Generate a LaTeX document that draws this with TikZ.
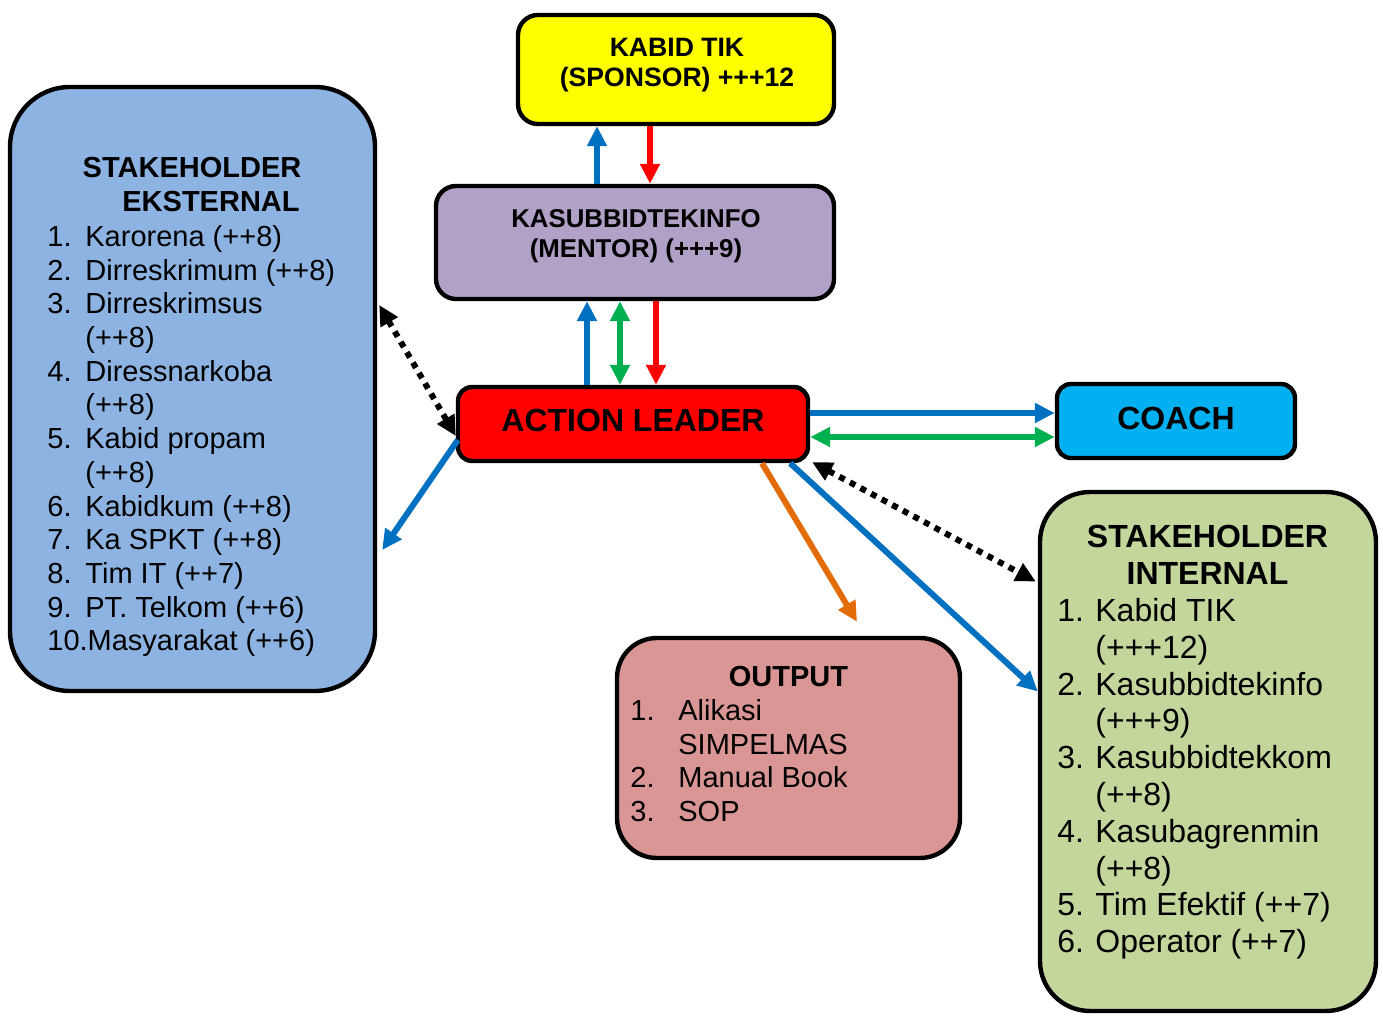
\documentclass[tikz,border=0pt]{standalone}
\usepackage{fontspec}
\setmainfont{Liberation Sans}
\usetikzlibrary{arrows.meta,calc}

\definecolor{cyellow}{HTML}{FFFF00}
\definecolor{cpurple}{HTML}{B2A1C7}
\definecolor{cred}{HTML}{FF0000}
\definecolor{ccyan}{HTML}{00B0F0}
\definecolor{cblue}{HTML}{8DB3E2}
\definecolor{cgreen}{HTML}{C3D69B}
\definecolor{cpink}{HTML}{D99694}
\definecolor{ablue}{HTML}{0070C0}
\definecolor{agreen}{HTML}{00B050}
\definecolor{ared}{HTML}{FF0000}
\definecolor{aorange}{HTML}{E36C0A}

\begin{document}
\begin{tikzpicture}[x=0.5pt,y=-0.5pt,
  box/.style={draw=black, line width=2.2pt, rounded corners=#1, inner sep=0pt},
  box/.default=10pt,
  txt/.style={inner sep=0pt, anchor=base},
  lst/.style={inner sep=0pt, anchor=base west},
  arr/.style={line width=3pt, -{Triangle[width=9.5pt,length=10pt]}},
  arrboth/.style={line width=3pt, {Triangle[width=9.5pt,length=10pt]}-{Triangle[width=9.5pt,length=10pt]}},
  dotarr/.style={line width=3pt, dash pattern=on 3pt off 3pt, black,
    {Triangle[width=9.5pt,length=10pt]}-{Triangle[width=9.5pt,length=10pt]}},
]
\useasboundingbox (0,0) rectangle (1383,1016);

% boxes
\node[box=10pt, fill=cyellow, minimum width=158pt, minimum height=54.5pt] (kabid) at (676,69.5) {};
\node[box=10pt, fill=cpurple, minimum width=199pt, minimum height=56.5pt] (mentor) at (635,242.5) {};
\node[box=7pt, fill=cred, minimum width=175pt, minimum height=37pt] (action) at (633,424) {};
\node[box=7pt, fill=ccyan, minimum width=119pt, minimum height=37pt] (coach) at (1176,421) {};
\node[box=30pt, fill=cblue, minimum width=182.5pt, minimum height=302pt] (ekst) at (192.5,389) {};
\node[box=25pt, fill=cgreen, minimum width=168pt, minimum height=259.5pt] (int) at (1208,751.5) {};
\node[box=20pt, fill=cpink, minimum width=171.5pt, minimum height=110pt] (output) at (788.5,748) {};

% box texts
\node[txt, font=\fontsize{13.3}{15}\selectfont\bfseries] (kabidtxt) at (677,56.6)
  {\begin{tabular}[t]{@{}c@{}}KABID TIK\\(SPONSOR) +++12\end{tabular}};
\node[txt, font=\fontsize{12.9}{15}\selectfont\bfseries] (mentortxt) at (636,227.3)
  {\begin{tabular}[t]{@{}c@{}}KASUBBIDTEKINFO\\(MENTOR) (+++9)\end{tabular}};
\node[txt, font=\fontsize{16}{18.4}\selectfont\bfseries] (actiontxt) at (633,431.4) {ACTION LEADER};
\node[txt, font=\fontsize{16}{18.4}\selectfont\bfseries] (coachtxt) at (1176,429.3) {COACH};

\node[txt, font=\fontsize{14.5}{16.85}\selectfont\bfseries] (eksttitle) at (192,178)
  {\begin{tabular}[t]{@{}c@{}}STAKEHOLDER\\\hspace*{19pt}EKSTERNAL\end{tabular}};
\node[lst, font=\fontsize{14.5}{16.85}\selectfont] (ekstlist) at (47,246.5)
  {\begin{tabular}[t]{@{}p{19pt}@{}l@{}}
   1.&Karorena (++8)\\
   2.&Dirreskrimum (++8)\\
   3.&Dirreskrimsus\\
     &(++8)\\
   4.&Diressnarkoba\\
     &(++8)\\
   5.&Kabid propam\\
     &(++8)\\
   6.&Kabidkum (++8)\\
   7.&Ka SPKT (++8)\\
   8.&Tim IT (++7)\\
   9.&PT. Telkom (++6)\\
   \multicolumn{2}{@{}l@{}}{10.Masyarakat (++6)}
   \end{tabular}};

\node[txt, font=\fontsize{16}{18.4}\selectfont\bfseries] (inttitle) at (1207.5,547.5)
  {\begin{tabular}[t]{@{}c@{}}STAKEHOLDER\\INTERNAL\end{tabular}};
\node[lst, font=\fontsize{16}{18.4}\selectfont] (intlist) at (1057,621.5)
  {\begin{tabular}[t]{@{}p{19pt}@{}l@{}}
   1.&Kabid TIK\\
     &(+++12)\\
   2.&Kasubbidtekinfo\\
     &(+++9)\\
   3.&Kasubbidtekkom\\
     &(++8)\\
   4.&Kasubagrenmin\\
     &(++8)\\
   5.&Tim Efektif (++7)\\
   6.&Operator (++7)
   \end{tabular}};

\node[txt, font=\fontsize{14.5}{16.85}\selectfont\bfseries] (outtitle) at (788.5,686) {OUTPUT};
\node[lst, font=\fontsize{14.5}{16.85}\selectfont] (outlist) at (630,720.5)
  {\begin{tabular}[t]{@{}p{24pt}@{}l@{}}
   1.&Alikasi\\
     &SIMPELMAS\\
   2.&Manual Book\\
   3.&SOP
   \end{tabular}};

% sponsor <-> mentor
\coordinate (km1) at ($(mentor.north)+(-38,0)$);
\coordinate (km2) at ($(kabid.south)+(-26,0)$);
\draw[arr, ablue] (km1) -- (km1 |- kabid.south);
\draw[arr, ared] (km2) -- (km2 |- mentor.north);

% mentor <-> action leader
\coordinate (am1) at ($(action.north)+(-46,0)$);
\coordinate (am2) at ($(action.north)+(-13,0)$);
\coordinate (ma3) at ($(mentor.south)+(21,0)$);
\draw[arr, ablue] (am1) -- (am1 |- mentor.south);
\draw[arrboth, agreen] (am2) -- (am2 |- mentor.south);
\draw[arr, ared] (ma3) -- (ma3 |- action.north);

% action leader <-> coach
\coordinate (ac1) at ($(action.east)+(0,-11)$);
\coordinate (ac2) at ($(action.east)+(0,13)$);
\draw[arr, ablue] (ac1) -- (ac1 -| coach.west);
\draw[arrboth, agreen] (ac2) -- (ac2 -| coach.west);

% external stakeholders
\draw[dotarr] ($(ekst.east)+(2,-84)$) -- ($(action.west)+(0,12)$);
\draw[arr, ablue] ($(action.west)+(2,16)$) -- ($(ekst.east)+(5,161)$);

% internal stakeholders
\draw[dotarr] ($(action.south east)+(2,-1)$) -- ($(int.west)+(-2,-170)$);
\draw[arr, ablue] ($(action.south east)+(-20,0)$) -- ($(int.west)+(0,-60)$);

% output
\draw[arr, aorange] ($(action.south)+(129,0)$) -- ($(output.north)+(68.5,-14)$);
\end{tikzpicture}
\end{document}
